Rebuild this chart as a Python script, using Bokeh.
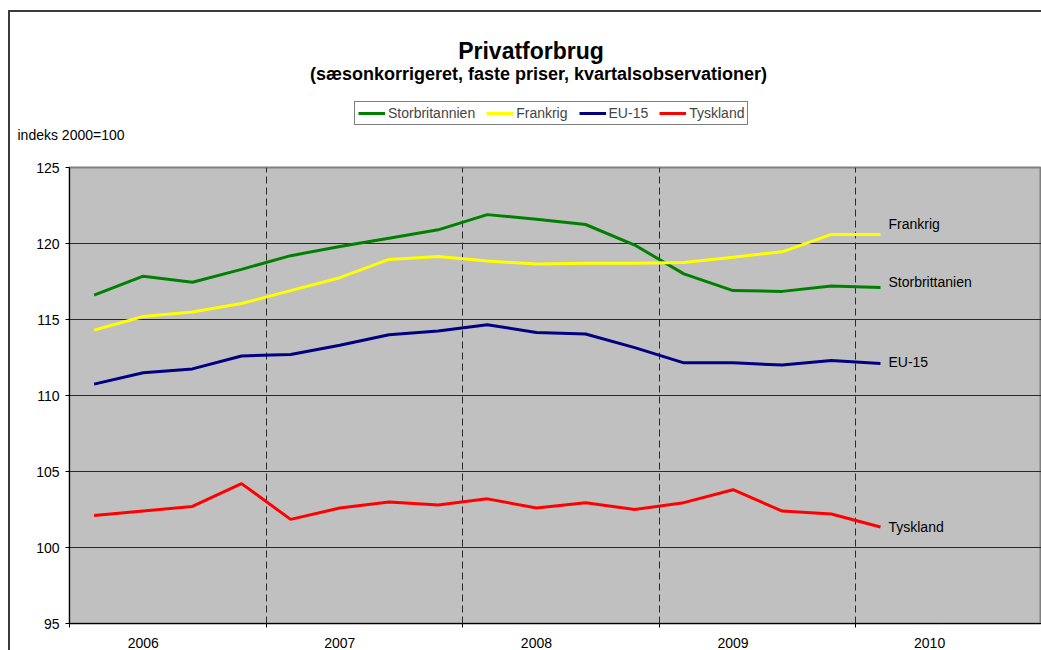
from bokeh.plotting import figure
from bokeh.layouts import column
from bokeh.models import Range1d, FixedTicker, Legend, LegendItem, Label
from bokeh.embed import file_html
from bokeh.resources import INLINE

# ---- data -------------------------------------------------------------
quarters = ["2006K1", "2006K2", "2006K3", "2006K4",
            "2007K1", "2007K2", "2007K3", "2007K4",
            "2008K1", "2008K2", "2008K3", "2008K4",
            "2009K1", "2009K2", "2009K3", "2009K4",
            "2010K1"]
years = ["2006", "2007", "2008", "2009", "2010"]

storbritannien = [116.6, 117.85, 117.45, 118.3, 119.2, 119.8, 120.35, 120.9,
                  121.9, 121.6, 121.25, 119.9, 118.0, 116.9, 116.85, 117.2, 117.1]
frankrig = [114.3, 115.2, 115.5, 116.05, 116.9, 117.75, 118.95, 119.15,
            118.85, 118.65, 118.7, 118.7, 118.75, 119.1, 119.45, 120.6, 120.6]
eu15 = [110.75, 111.5, 111.75, 112.6, 112.7, 113.3, 114.0, 114.25,
        114.65, 114.15, 114.05, 113.15, 112.15, 112.15, 112.0, 112.3, 112.1]
tyskland = [102.1, 102.4, 102.7, 104.2, 101.85, 102.6, 103.0, 102.8,
            103.2, 102.6, 102.95, 102.5, 102.95, 103.8, 102.4, 102.2, 101.35]

series_names = ["Storbritannien", "Frankrig", "EU-15", "Tyskland"]
end_labels = ["Storbrittanien", "Frankrig", "EU-15", "Tyskland"]
y_ticks = [95, 100, 105, 110, 115, 120, 125]

title_text = "Privatforbrug"
subtitle_text = "(sæsonkorrigeret, faste priser, kvartalsobservationer)"
ylabel_text = "indeks 2000=100"

# ---- styling ----------------------------------------------------------
FONT = "Liberation Sans"
FRAME = "2px solid #3c3c3c"
colors = ["#008000", "#FFFF00", "#000080", "#FF0000"]
values = [storbritannien, frankrig, eu15, tyskland]

xs = [i + 0.5 for i in range(len(quarters))]
year_pos = [4 * k + 1.5 for k in range(len(years))]
boundaries = [4 * k for k in range(len(years))]

W = 1031

# ---- header figure (titles, legend, unit label); data units == page px --
top = figure(width=W, height=138, output_backend="svg", toolbar_location=None,
             x_range=Range1d(10, 10 + W), y_range=Range1d(150, 12),
             min_border=0, x_axis_type=None, y_axis_type=None)
top.frame_align = False
top.outline_line_color = None
top.background_fill_color = "white"
top.border_fill_color = "white"
top.xgrid.visible = False
top.ygrid.visible = False

top.add_layout(Label(x=530.5, y=50, text=title_text,
                     text_font=FONT, text_font_size="23px", text_font_style="bold",
                     text_align="center", text_baseline="alphabetic", text_color="black"))
top.add_layout(Label(x=538, y=73, text=subtitle_text,
                     text_font=FONT, text_font_size="18px", text_font_style="bold",
                     text_align="center", text_baseline="alphabetic", text_color="black"))
top.add_layout(Label(x=17, y=134, text=ylabel_text,
                     text_font=FONT, text_font_size="14px",
                     text_align="left", text_baseline="alphabetic", text_color="black"))

# hidden copies of the series, only used to draw the legend swatches
legend_renderers = [top.line(xs, vals, line_color=c, line_width=3, visible=False)
                    for vals, c in zip(values, colors)]
legend = Legend(items=[LegendItem(label=n, renderers=[r]) for n, r in zip(series_names, legend_renderers)],
                orientation="horizontal", location=(344, 25),
                label_text_font=FONT, label_text_font_size="14px",
                glyph_width=27, glyph_height=14, label_height=14, label_standoff=3,
                spacing=11, padding=3, margin=0,
                border_line_color="black", border_line_width=1,
                background_fill_color="white", background_fill_alpha=1.0)
top.add_layout(legend)

# ---- main chart -------------------------------------------------------
p = figure(width=W, height=500, output_backend="svg", toolbar_location=None,
           x_range=Range1d(0, 972 / 49.15), y_range=Range1d(95, 125),
           min_border_left=59, min_border_right=0, min_border_top=17,
           min_border_bottom=27)
p.frame_align = False

p.background_fill_color = "#C0C0C0"
p.border_fill_color = "white"
p.outline_line_color = "#808080"
p.outline_line_width = 2

p.yaxis.ticker = FixedTicker(ticks=y_ticks, minor_ticks=[])
p.yaxis.axis_line_color = "black"
p.yaxis.major_tick_out = 4
p.yaxis.major_tick_in = 0
p.yaxis.major_tick_line_color = "black"
p.yaxis.major_label_standoff = 6
p.yaxis.major_label_text_font = FONT
p.yaxis.major_label_text_font_size = "14px"
p.yaxis.major_label_text_color = "black"

p.xaxis.ticker = FixedTicker(ticks=year_pos, minor_ticks=boundaries)
p.xaxis.major_label_overrides = {pos: yr for pos, yr in zip(year_pos, years)}
p.xaxis.axis_line_color = "black"
p.xaxis.major_tick_out = 0
p.xaxis.major_tick_in = 0
p.xaxis.minor_tick_out = 4
p.xaxis.minor_tick_in = 0
p.xaxis.minor_tick_line_color = "black"
p.xaxis.major_label_standoff = 10
p.xaxis.major_label_text_font = FONT
p.xaxis.major_label_text_font_size = "14px"
p.xaxis.major_label_text_color = "black"

p.ygrid.ticker = FixedTicker(ticks=y_ticks)
p.ygrid.grid_line_color = "#2a2a2a"
p.ygrid.grid_line_width = 1
p.xgrid.ticker = FixedTicker(ticks=boundaries[1:])
p.xgrid.grid_line_color = "#2a2a2a"
p.xgrid.grid_line_dash = "7 4"
p.xgrid.grid_line_width = 1

for vals, c in zip(values, colors):
    p.line(xs, vals, line_color=c, line_width=3)

label_offsets = [6, 10, 2, 0]
for name, vals, off in zip(end_labels, values, label_offsets):
    p.add_layout(Label(x=xs[-1], y=vals[-1], x_offset=8, y_offset=off, text=name,
                       text_font=FONT, text_font_size="14px", text_color="black",
                       text_baseline="middle", text_align="left"))

page = column(top, p, spacing=0)
page.styles = {"margin-left": "8px", "margin-top": "10px",
               "border-top": FRAME, "border-left": FRAME}

open("out.html", "w").write(file_html(page, INLINE))
